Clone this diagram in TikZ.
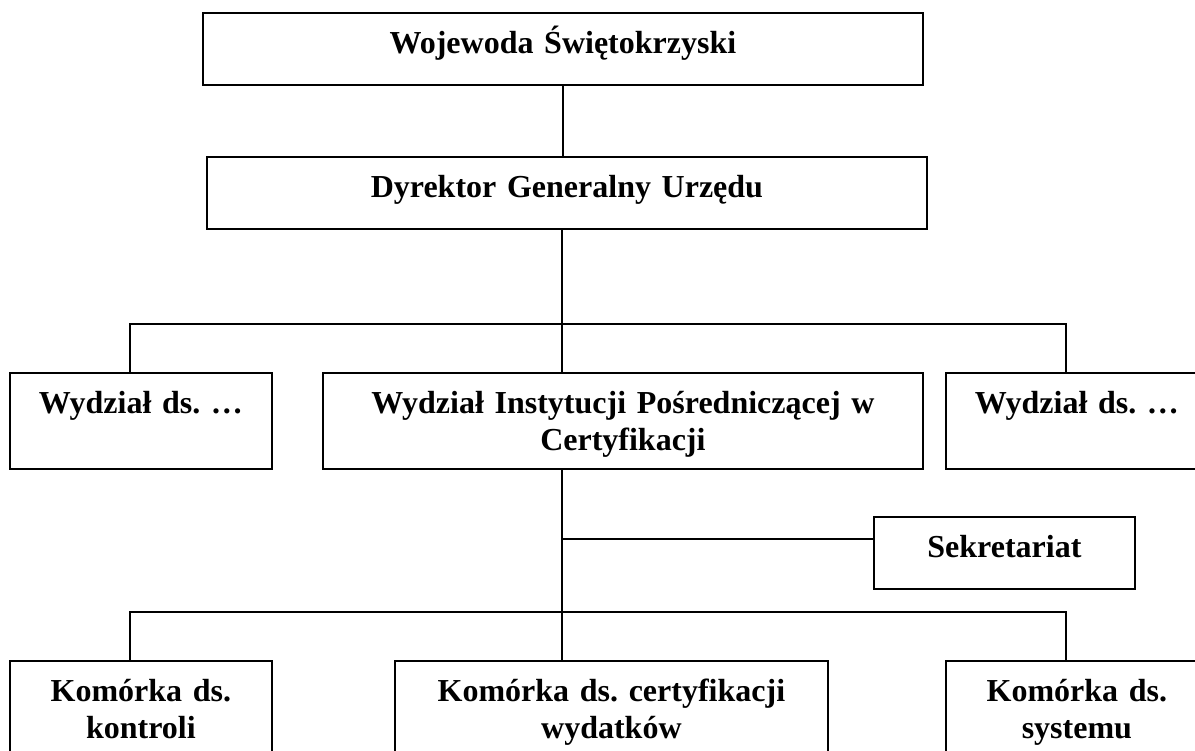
\documentclass[tikz,border=0pt]{standalone}
\usepackage{fontspec}
\setmainfont{Liberation Serif}
\usetikzlibrary{positioning}

\begin{document}
\begin{tikzpicture}[
  x=1pt, y=-1pt,
  unit/.style={draw, line width=1.8pt, anchor=north west, inner sep=0pt,
    text width=#1, align=center, text height=41pt, text depth=31pt,
    font=\fontsize{32}{37}\selectfont\bfseries\frenchspacing},
  tall/.style={text depth=55pt},
  link/.style={draw, line width=1.2pt}
]
\useasboundingbox (0,0) rectangle (1195,751);
\clip (0,0) rectangle (1195,751);

\node[unit=720pt] (voivode) at (202,12) {Wojewoda Świętokrzyski};
\node[unit=720pt] (director) at (206,156) {Dyrektor Generalny Urzędu};

\node[unit=262pt, tall] (deptL) at (9,372) {Wydział ds. …};
\node[unit=600pt, tall] (deptIP) at (322,372) {Wydział Instytucji Pośredniczącej w\\Certyfikacji};
\node[unit=262pt, tall] (deptR) at (945,372) {Wydział ds. …};

\node[unit=261pt] (secretariat) at (873,516) {Sekretariat};

\node[unit=262pt, tall] (cellCtrl) at (9,660) {Komórka ds.\\kontroli};
\node[unit=433pt, tall] (cellCert) at (394,660) {Komórka ds. certyfikacji\\wydatków};
\node[unit=262pt, tall] (cellSys) at (945,660) {Komórka ds.\\systemu};

\coordinate (busTop) at (562,324);
\coordinate (busTopL) at (130,324);
\coordinate (busTopR) at (1066,324);
\coordinate (busSec) at (562,539);
\coordinate (busLowL) at (130,612);
\coordinate (busLowR) at (1066,612);

\draw[link] (voivode.south) -- (voivode.south |- director.north);
\draw[link] (busTop |- director.south) -- (busTop |- deptIP.north);
\draw[link] (busTopL |- deptL.north) -- (busTopL) -- (busTopR) -- (busTopR |- deptR.north);
\draw[link] (busTop |- deptIP.south) -- (busTop |- cellCert.north);
\draw[link] (busSec) -- (busSec -| secretariat.west);
\draw[link] (busLowL |- cellCtrl.north) -- (busLowL) -- (busLowR) -- (busLowR |- cellSys.north);

\end{tikzpicture}
\end{document}
